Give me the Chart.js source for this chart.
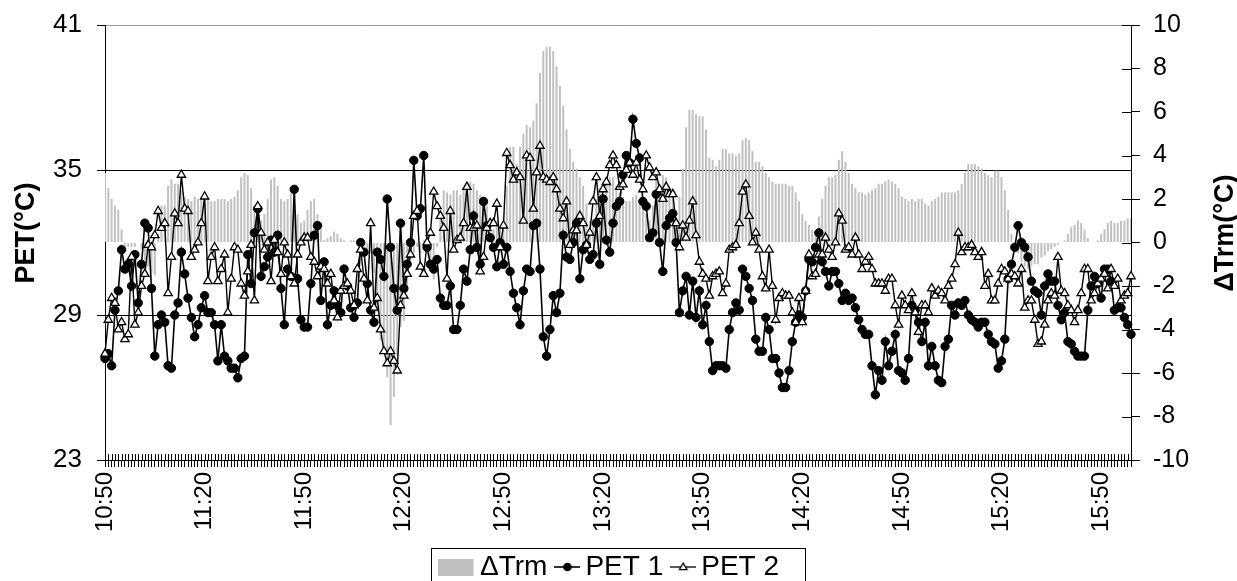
<!DOCTYPE html>
<html>
<head>
<meta charset="utf-8">
<script src="https://cdn.jsdelivr.net/npm/chart.js@4.4.1/dist/chart.umd.min.js"></script>
<style>
  html, body { margin: 0; padding: 0; background: #fff; }
</style>
</head>
<body>
<canvas id="chart" width="1237" height="581"></canvas>
<script>
// one category per minute, 10:50 .. 15:59
const startMinute = 10 * 60 + 50;
const minuteCount = 310;
const categories = [];
for (let i = 0; i < minuteCount; i++) {
    const m = startMinute + i;
    categories.push(Math.floor(m / 60) + ':' + String(m % 60).padStart(2, '0'));
}
// labels printed under every 30th minute
const tickLabels = ['10:50', '11:20', '11:50', '12:20', '12:50', '13:20', '13:50', '14:20', '14:50', '15:20', '15:50'];

const pet1 = [
    27.2,27.4,26.9,29.2,30.0,31.7,30.9,31.1,30.2,31.5,
    29.5,31.1,32.8,32.6,30.1,27.3,28.6,29.0,28.7,26.9,
    26.8,29.0,29.5,31.6,30.7,29.7,28.9,28.1,28.6,29.3,
    29.8,29.1,29.1,28.6,27.1,28.6,27.3,27.1,26.8,26.8,
    26.4,27.2,27.3,31.5,30.3,32.4,33.4,30.6,31.0,31.4,
    32.1,31.6,32.3,30.1,28.6,30.9,30.6,34.2,30.5,28.8,
    28.5,28.5,30.3,32.3,32.7,29.6,31.2,28.6,29.4,30.0,
    29.4,29.1,30.9,30.2,29.3,28.9,29.5,32.0,31.6,30.3,
    29.2,28.7,31.6,31.3,30.6,33.8,31.8,30.1,29.2,32.8,
    30.1,31.1,32.0,35.4,33.1,33.4,35.6,31.8,31.1,30.9,
    31.3,29.7,29.4,29.4,30.2,28.4,28.4,29.4,30.9,30.4,
    31.7,33.1,31.8,31.1,33.7,32.7,32.2,31.8,31.0,32.0,
    31.1,31.8,30.8,29.9,29.3,28.6,30.0,30.9,30.8,32.7,
    32.8,30.9,28.1,27.3,28.4,29.8,29.1,29.9,32.3,31.4,
    31.3,32.0,32.8,30.5,31.7,31.9,31.3,31.5,32.8,31.1,
    33.8,32.1,31.6,32.8,33.5,33.7,34.8,35.6,35.3,37.1,
    36.1,35.5,33.7,33.5,32.2,32.4,34.0,32.0,30.8,32.7,
    33.0,33.2,32.0,29.1,30.0,30.6,29.0,30.4,28.9,30.0,
    28.6,29.4,27.9,26.7,26.9,26.9,26.9,26.8,28.4,29.1,
    29.5,29.2,30.9,30.6,30.1,29.6,28.0,27.5,27.5,28.9,
    28.4,27.2,27.2,26.6,26.0,26.0,26.7,27.9,28.7,29.0,
    28.9,30.0,31.3,31.2,31.8,32.4,31.2,30.8,30.2,30.8,
    30.8,30.3,29.6,29.9,29.6,29.7,29.3,28.8,28.4,28.2,
    28.2,26.9,25.7,26.7,26.3,27.9,26.9,27.5,28.2,26.7,
    26.6,26.3,27.2,29.4,29.2,28.7,27.9,28.7,26.9,27.7,
    26.9,26.3,26.2,27.7,28.0,29.4,29.0,29.5,29.4,29.6,
    29.0,28.8,28.7,28.5,28.7,28.7,28.2,27.9,27.8,26.8,
    27.1,28.0,30.5,31.1,31.8,32.7,32.0,31.8,31.4,30.4,
    30.0,29.9,29.0,30.2,30.7,30.4,30.4,29.4,28.8,29.1,
    27.9,27.8,27.5,27.3,27.3,27.3,29.2,30.2,30.6,30.3,
    29.7,30.9,30.9,30.4,29.2,29.3,29.3,28.9,28.6,28.2
];

const pet2 = [
    27.4,28.8,29.7,29.5,28.4,28.7,28.0,28.2,31.4,28.6,
    29.1,30.2,30.7,31.9,31.8,32.3,33.3,32.6,32.8,29.9,
    31.4,33.2,32.8,34.8,33.4,33.3,31.4,31.7,32.0,32.8,
    33.9,30.4,31.4,31.8,30.4,30.9,31.5,29.1,30.5,31.8,
    31.7,30.3,29.8,30.8,31.9,29.6,33.5,32.4,31.7,32.0,
    30.4,32.1,31.6,30.7,32.0,31.5,30.6,30.3,31.5,32.0,
    32.2,32.2,31.4,31.2,30.6,31.0,30.9,30.3,30.7,29.6,
    28.9,30.0,30.2,30.3,30.0,29.4,30.9,31.7,30.5,29.6,
    32.8,29.3,29.7,28.4,27.5,27.0,27.5,27.1,26.7,29.4,
    29.8,30.7,31.5,33.1,33.3,31.0,30.7,32.0,32.4,34.1,
    33.5,33.1,32.6,30.5,33.3,31.7,32.1,32.2,32.8,34.3,
    32.6,32.6,32.7,30.8,31.4,32.6,32.8,32.8,33.6,31.8,
    32.7,35.7,35.2,34.6,34.9,34.7,32.9,35.6,35.5,33.4,
    34.9,36.0,34.7,34.6,34.5,34.7,34.2,33.4,33.0,33.7,
    31.9,32.5,32.5,33.1,32.8,31.9,32.4,33.7,34.7,33.1,
    34.2,34.5,35.2,35.6,35.2,34.3,34.4,35.0,35.3,34.8,
    35.3,34.6,34.2,35.6,35.1,34.7,34.9,34.2,33.8,34.3,
    34.0,34.0,32.8,31.8,32.7,32.2,32.9,33.7,32.3,31.2,
    30.7,30.5,29.8,30.6,30.7,30.8,29.9,30.3,31.7,31.8,
    31.9,32.8,34.1,34.4,33.1,32.0,32.4,31.7,30.6,30.1,
    31.7,30.2,28.8,29.7,29.9,29.8,29.8,29.1,28.7,29.7,
    28.7,30.0,31.5,30.6,30.7,31.5,31.5,32.2,31.7,31.4,
    32.0,33.2,32.9,31.7,31.8,31.5,32.2,31.5,30.9,31.2,
    31.4,30.9,30.3,30.3,30.3,30.0,30.5,30.5,29.4,28.6,
    29.8,29.4,29.2,29.9,29.1,28.3,29.4,29.4,29.1,30.1,
    29.8,30.0,29.9,29.6,30.2,30.5,31.1,32.4,31.6,31.8,
    31.8,31.9,31.6,31.4,31.6,30.2,30.7,29.6,29.6,30.3,
    30.9,30.8,30.5,30.7,30.6,30.3,30.9,29.3,29.6,29.6,
    28.8,27.8,27.9,28.6,29.6,29.9,29.8,31.4,30.0,29.9,
    29.4,29.2,28.7,29.2,29.9,30.9,30.9,29.6,29.9,30.3,
    30.5,30.7,30.1,30.9,30.2,30.5,29.6,29.8,29.9,30.6
];

const dTrm = [
    3.2,2.5,2.0,1.7,1.5,0.6,-0.2,-0.2,-0.2,-0.2,
    0.0,-0.3,-0.8,-1.1,-1.4,-1.5,0.4,1.7,1.7,2.6,
    2.9,2.7,2.7,2.4,2.1,2.0,1.9,2.1,2.0,2.1,
    2.1,2.0,1.9,1.9,2.0,2.0,2.0,1.9,2.0,2.1,
    2.4,3.0,3.2,3.1,2.5,1.7,1.0,1.0,1.3,2.0,
    2.9,3.0,2.6,2.0,1.9,2.0,2.3,2.4,1.3,0.9,
    1.0,1.5,1.9,2.0,1.3,0.7,0.1,0.2,0.3,0.5,
    0.4,0.2,0.1,0.0,0.1,0.1,0.0,-0.1,-0.2,-0.3,
    -0.5,-1.4,-3.2,-4.5,-5.1,-6.2,-8.4,-7.1,-5.2,-3.9,
    -3.6,-2.3,-0.8,-0.5,-0.2,-0.5,0.1,-0.3,-0.8,-1.7,
    -0.2,1.3,2.4,2.3,2.2,2.4,2.4,2.2,2.5,2.3,
    2.8,2.7,2.4,2.2,2.1,1.7,1.0,0.6,1.0,0.7,
    0.6,2.6,4.4,4.4,3.6,4.4,5.0,5.4,5.3,5.6,
    6.4,7.8,8.8,9.0,9.0,8.8,8.1,7.2,6.3,5.2,
    4.3,3.7,3.4,3.0,2.6,1.8,1.0,1.1,2.0,2.5,
    2.8,3.0,3.0,3.0,2.6,2.3,2.1,1.9,1.9,2.1,
    2.2,1.9,1.7,1.3,1.0,1.7,2.9,2.6,3.1,3.0,
    2.3,2.0,1.0,2.1,3.4,5.3,6.1,6.1,5.9,5.8,
    5.8,5.2,3.9,3.8,3.5,3.8,4.3,4.3,4.1,4.1,
    4.0,4.1,4.7,4.8,4.7,4.2,3.7,3.7,3.5,3.2,
    3.0,2.8,2.7,2.7,2.7,2.7,2.6,2.6,2.3,1.9,
    1.3,1.0,0.8,0.6,0.4,1.2,2.0,2.6,3.0,3.0,
    3.1,3.8,4.2,3.7,3.2,2.7,2.5,2.3,2.3,2.2,
    2.3,2.4,2.5,2.7,2.7,2.8,2.9,2.8,2.7,2.5,
    2.1,2.0,1.9,2.0,1.9,2.0,2.0,1.8,1.7,1.9,
    2.0,2.1,2.3,2.3,2.3,2.3,2.3,2.4,2.7,3.2,
    3.6,3.6,3.6,3.5,3.4,3.2,3.1,3.0,3.3,3.3,
    3.0,2.4,1.5,0.4,0.0,-0.5,-0.9,-1.1,-1.2,-1.1,
    -1.0,-1.0,-0.7,-0.6,-0.4,-0.3,-0.2,-0.1,0.0,0.1,
    0.4,0.7,0.8,1.0,0.9,0.6,0.2,0.0,0.0,0.1,
    0.4,0.6,0.9,1.0,0.9,0.9,1.0,1.0,1.1,1.1
];

const FONT = '"Liberation Sans", Arial, Helvetica, sans-serif';
const BAR_GREY = '#c0c0c0';

// small pictures used as legend symbols
function makeIcon(w, h, paint) {
    const c = document.createElement('canvas');
    c.width = w;
    c.height = h;
    paint(c.getContext('2d'), w, h);
    return c;
}
const legendIcons = [
    // grey block sits left of the icon centre
    makeIcon(47, 17, (g, w, h) => { g.fillStyle = BAR_GREY; g.fillRect(0, 0, 35, h); }),
    makeIcon(26, 12, (g, w, h) => {
        g.strokeStyle = '#000'; g.lineWidth = 1.6;
        g.beginPath(); g.moveTo(0, h / 2); g.lineTo(w, h / 2); g.stroke();
        g.fillStyle = '#000';
        g.beginPath(); g.arc(w / 2, h / 2, 4.3, 0, Math.PI * 2); g.fill();
    }),
    makeIcon(26, 12, (g, w, h) => {
        g.strokeStyle = '#000'; g.lineWidth = 1.3;
        g.beginPath(); g.moveTo(0, h / 2); g.lineTo(w, h / 2); g.stroke();
        g.fillStyle = '#fff';
        g.beginPath();
        g.moveTo(w / 2, h / 2 - 4); g.lineTo(w / 2 + 3.8, h / 2 + 2.6); g.lineTo(w / 2 - 3.8, h / 2 + 2.6);
        g.closePath(); g.fill(); g.stroke();
    })
];

// ticks that cross into the plot, axis titles and the legend frame
const chartExtras = {
    id: 'chartExtras',
    afterDraw(chart) {
        const {ctx, chartArea, scales} = chart;
        ctx.save();
        ctx.strokeStyle = '#000';
        ctx.lineWidth = 1;
        ctx.beginPath();
        scales.x.ticks.forEach((t, i) => {
            const px = Math.round(scales.x.getPixelForTick(i)) + 0.5;
            ctx.moveTo(px, chartArea.bottom);
            ctx.lineTo(px, chartArea.bottom - 6);
        });
        scales.y1.ticks.forEach((t, i) => {
            const py = Math.round(scales.y1.getPixelForTick(i)) + 0.5;
            ctx.moveTo(chartArea.right, py);
            ctx.lineTo(chartArea.right - 9, py);
        });
        ctx.stroke();

        ctx.fillStyle = '#000';
        ctx.font = 'bold 27px ' + FONT;
        ctx.textAlign = 'center';
        ctx.textBaseline = 'middle';
        [[27, 'PET(°C)'], [1226, 'ΔTrm(°C)']].forEach(([x, txt]) => {
            ctx.save();
            ctx.translate(x, 233);
            ctx.rotate(-Math.PI / 2);
            ctx.fillText(txt, 0, 0);
            ctx.restore();
        });

        // frame round the legend, open at the bottom edge of the picture
        ctx.strokeRect(431.5, 548.5, 374, 60);
        ctx.restore();
    }
};

// vertical axes: keep the plot top at the layout padding
function fixVertical(width) {
    return scale => {
        scale.width = width;
        scale.paddingTop = 0;
        scale.paddingBottom = 0;
    };
}

new Chart(document.getElementById('chart'), {
    type: 'bar',
    data: {
        labels: categories,
        datasets: [
            {
                type: 'bar',
                label: 'ΔTrm',
                data: dTrm,
                yAxisID: 'y1',
                backgroundColor: BAR_GREY,
                borderWidth: 0,
                barPercentage: 0.6,
                categoryPercentage: 1.0,
                order: 3
            },
            {
                type: 'line',
                label: 'PET 1',
                data: pet1,
                yAxisID: 'y',
                borderColor: '#000',
                borderWidth: 1.6,
                pointStyle: 'circle',
                pointRadius: 4.2,
                pointBackgroundColor: '#000',
                pointBorderColor: '#000',
                pointBorderWidth: 1,
                tension: 0,
                order: 2
            },
            {
                type: 'line',
                label: 'PET 2',
                data: pet2,
                yAxisID: 'y',
                borderColor: '#000',
                borderWidth: 1.4,
                pointStyle: 'triangle',
                pointRadius: 4.8,
                pointBackgroundColor: '#fff',
                pointBorderColor: '#000',
                pointBorderWidth: 1.3,
                tension: 0,
                order: 1
            }
        ]
    },
    options: {
        responsive: false,
        animation: false,
        devicePixelRatio: 1,
        layout: {padding: {top: 25, right: 0, bottom: -10, left: 0}},
        plugins: {
            tooltip: {enabled: false},
            legend: {
                position: 'bottom',
                labels: {
                    usePointStyle: true,
                    pointStyleWidth: 8,
                    padding: 16,
                    color: '#000',
                    font: {size: 28, family: FONT},
                    generateLabels: chart => chart.data.datasets.map((ds, i) => ({
                        text: ds.label,
                        pointStyle: legendIcons[i],
                        datasetIndex: i,
                        fillStyle: '#000',
                        strokeStyle: '#000',
                        lineWidth: 0,
                        hidden: false
                    }))
                }
            }
        },
        scales: {
            x: {
                type: 'category',
                offset: false,
                grid: {
                    offset: false,
                    drawOnChartArea: false,
                    drawTicks: true,
                    tickLength: 7,
                    color: '#000'
                },
                border: {color: '#000', width: 1},
                ticks: {
                    autoSkip: false,
                    minRotation: 90,
                    maxRotation: 90,
                    padding: 5,
                    color: '#000',
                    font: {size: 24, family: FONT},
                    callback: (value, index) => index % 30 === 0 ? tickLabels[index / 30] : ''
                },
                // legend starts at y 537, plot must end at y 460
                afterFit: scale => { scale.height = 77; }
            },
            y: {
                position: 'left',
                min: 23,
                max: 41,
                grid: {
                    color: ctx => (ctx.tick && ctx.tick.value === 41) ? '#9a9a9a' : '#000',
                    tickColor: '#000',
                    tickLength: 8,
                    lineWidth: 1
                },
                border: {color: '#000', width: 1},
                ticks: {
                    stepSize: 6,
                    padding: 15,
                    color: '#000',
                    font: {size: 26, family: FONT}
                },
                afterFit: fixVertical(105)
            },
            y1: {
                position: 'right',
                min: -10,
                max: 10,
                grid: {
                    drawOnChartArea: false,
                    tickLength: 9,
                    color: '#000'
                },
                border: {color: '#000', width: 1},
                ticks: {
                    stepSize: 2,
                    padding: 13,
                    color: '#000',
                    font: {size: 25, family: FONT}
                },
                afterFit: fixVertical(106)
            }
        }
    },
    plugins: [chartExtras]
});
</script>
</body>
</html>
